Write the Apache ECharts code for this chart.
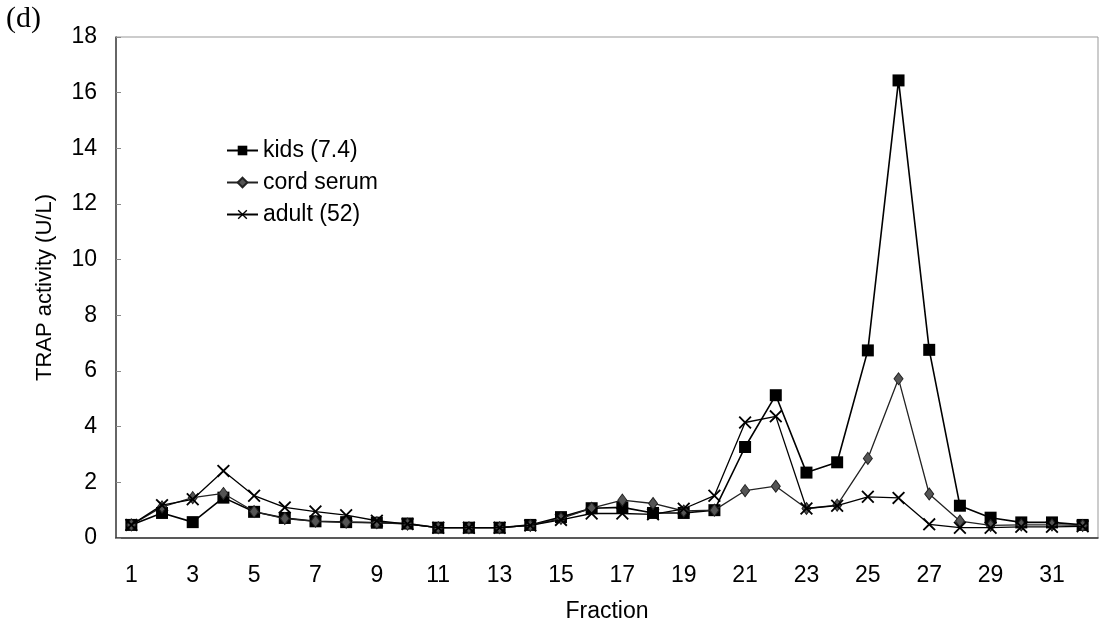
<!DOCTYPE html>
<html>
<head>
<meta charset="utf-8">
<script src="https://cdn.jsdelivr.net/npm/echarts@6/dist/echarts.min.js"></script>
<style>
html,body{margin:0;padding:0;background:#fff;}
#c{width:1099px;height:629px;}
</style>
</head>
<body>
<div id="c"></div>
<script>
const fractions = ['1','2','3','4','5','6','7','8','9','10','11','12','13','14','15','16','17','18','19','20','21','22','23','24','25','26','27','28','29','30','31','32'];
const kids = [0.47,0.9,0.57,1.45,0.94,0.72,0.6,0.57,0.55,0.52,0.37,0.37,0.37,0.47,0.75,1.07,1.1,0.9,0.9,1.0,3.27,5.13,2.35,2.72,6.74,16.44,6.76,1.16,0.73,0.56,0.56,0.47];
const cord = [0.47,1.12,1.45,1.6,0.95,0.7,0.6,0.57,0.55,0.5,0.37,0.37,0.37,0.45,0.7,1.07,1.36,1.24,0.97,1.0,1.7,1.86,1.06,1.18,2.86,5.72,1.58,0.61,0.45,0.47,0.47,0.45];
const adult = [0.47,1.18,1.39,2.41,1.52,1.1,0.95,0.82,0.62,0.5,0.37,0.37,0.37,0.45,0.65,0.88,0.88,0.85,1.05,1.52,4.15,4.37,1.06,1.16,1.48,1.44,0.49,0.37,0.37,0.4,0.4,0.42];
const seriesNames = ['kids (7.4)','cord serum','adult (52)'];

const font = 'Liberation Sans, Arial, sans-serif';
const xShape = 'path://M0,1L1,0L5,4L9,0L10,1L6,5L10,9L9,10L5,6L1,10L0,9L4,5Z';

const chart = echarts.init(document.getElementById('c'));
chart.setOption({
  animation: false,
  backgroundColor: '#fff',
  graphic: [{
    type: 'text', left: 6, top: 4,
    style: { text: '(d)', font: '30px "Liberation Serif", "Times New Roman", serif', fill: '#000' }
  }],
  grid: { left: 116, right: 1, top: 37, bottom: 91, show: true, borderColor: '#999', borderWidth: 1 },
  legend: {
    orient: 'vertical', left: 221, top: 134, itemGap: 9, itemWidth: 31, itemHeight: 12,
    textStyle: { fontFamily: font, fontSize: 23, color: '#000' },
    data: seriesNames
  },
  xAxis: {
    type: 'category', data: fractions, boundaryGap: true,
    name: 'Fraction', nameLocation: 'middle', nameGap: 62,
    nameTextStyle: { fontFamily: font, fontSize: 23, color: '#000' },
    axisLine: { lineStyle: { color: '#333', width: 1.5 } },
    axisTick: { inside: true, length: 6, lineStyle: { color: '#555' } },
    axisLabel: { interval: 1, margin: 26, fontFamily: font, fontSize: 23, color: '#000' },
    splitLine: { show: false }
  },
  yAxis: {
    type: 'value', min: 0, max: 18, interval: 2,
    name: 'TRAP activity (U/L)', nameLocation: 'middle', nameGap: 60,
    nameTextStyle: { fontFamily: font, fontSize: 22, color: '#000' },
    axisLine: { show: true, lineStyle: { color: '#444', width: 1.5 } },
    axisTick: { show: true, inside: true, length: 5, lineStyle: { color: '#888' } },
    axisLabel: { margin: 19, fontFamily: font, fontSize: 23, color: '#000' },
    splitLine: { show: false }
  },
  series: [
    {
      name: seriesNames[0], type: 'line', data: kids,
      symbol: 'rect', symbolSize: 12, showAllSymbol: true,
      lineStyle: { color: '#000', width: 1.6 },
      itemStyle: { color: '#000' }, z: 3
    },
    {
      name: seriesNames[1], type: 'line', data: cord,
      symbol: 'diamond', symbolSize: [9, 12], showAllSymbol: true,
      lineStyle: { color: '#222', width: 1.3 },
      itemStyle: { color: '#555', borderColor: '#222', borderWidth: 1 }, z: 4
    },
    {
      name: seriesNames[2], type: 'line', data: adult,
      symbol: xShape, symbolSize: 13, showAllSymbol: true,
      lineStyle: { color: '#000', width: 1.3 },
      itemStyle: { color: '#000' }, z: 5
    }
  ]
});
</script>
</body>
</html>
